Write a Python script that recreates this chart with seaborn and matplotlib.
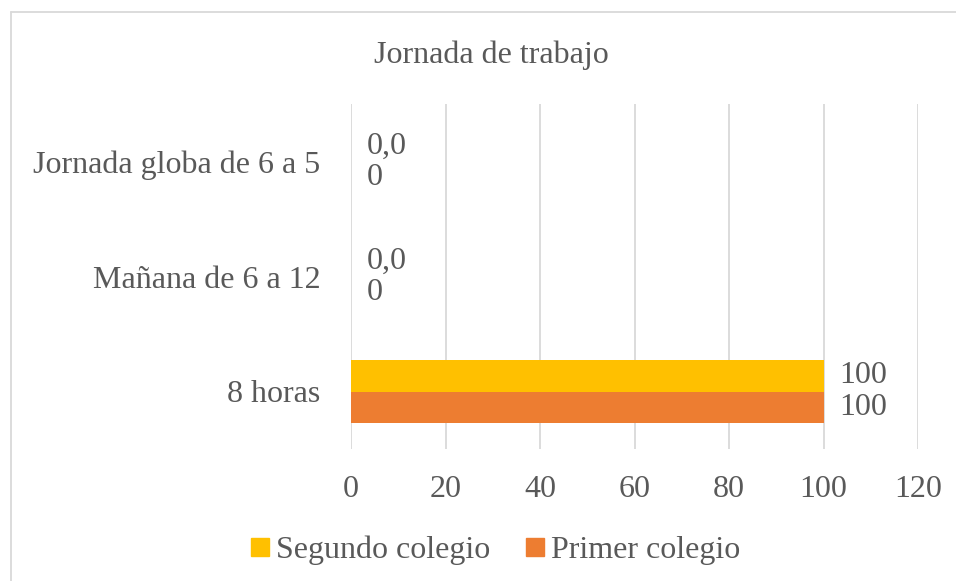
import matplotlib
matplotlib.use("Agg")
import matplotlib.pyplot as plt
import seaborn as sns
import pandas as pd
from matplotlib.lines import Line2D

categories = ["Jornada globa de 6 a 5", "Mañana de 6 a 12", "8 horas"]
series = ["Segundo colegio", "Primer colegio"]
segundo = [0, 0, 100]
primer = [0, 0, 100]
segundo_labels = ["0,0", "0,0", "100"]
primer_labels = ["0", "0", "100"]
xticks = [0, 20, 40, 60, 80, 100, 120]
colors = ["#FFC000", "#ED7D31"]

df = pd.DataFrame({
    "cat": categories * 2,
    "serie": [series[0]] * 3 + [series[1]] * 3,
    "val": segundo + primer,
})

sns.set_theme(style="white")
plt.rcParams["font.family"] = "serif"
plt.rcParams["font.serif"] = ["Liberation Serif", "Times New Roman", "DejaVu Serif"]
txt = "#595959"

fig = plt.figure(figsize=(9.56, 5.81), dpi=100)
ax = fig.add_axes([351/956, 1-449/581, (918-351)/956, (449-104)/581])
sns.barplot(data=df, x="val", y="cat", hue="serie", order=categories,
            hue_order=series, palette=colors, orient="h", width=0.54,
            saturation=1, ax=ax, legend=False, linewidth=0)

ax.bar_label(ax.containers[0], labels=segundo_labels, padding=11,
             fontsize=23, color=txt)
ax.bar_label(ax.containers[1], labels=primer_labels, padding=11,
             fontsize=23, color=txt)

ax.set_xlim(0, 120)
ax.set_xticks(xticks)
ax.set_xticklabels([str(t) for t in xticks])
ax.xaxis.grid(True, color="#D9D9D9", linewidth=1.3)
ax.set_axisbelow(True)
for s in ax.spines.values():
    s.set_visible(False)
ax.tick_params(axis="x", length=0, pad=19, labelsize=23, labelcolor=txt)
ax.tick_params(axis="y", length=0, pad=22, labelsize=23, labelcolor=txt)
ax.set_xlabel("")
ax.set_ylabel("")

fig.text(491/956, 1-55/581, "Jornada de trabajo", ha="center", va="center",
         fontsize=23, color=txt)

handles = [Line2D([], [], marker="s", linestyle="none", markersize=13,
                  markerfacecolor=c, markeredgecolor=c) for c in colors]
fig.legend(handles, series, loc="center", bbox_to_anchor=(495/956, 1-550/581),
           ncol=2, frameon=False, fontsize=23, labelcolor=txt,
           handletextpad=0.2, columnspacing=1.1, handlelength=0.6)

fig.add_artist(Line2D([11/956, 11/956], [0, 1-12/581], transform=fig.transFigure,
                      color="#D9D9D9", linewidth=1.3))
fig.add_artist(Line2D([11/956, 1], [1-12/581, 1-12/581], transform=fig.transFigure,
                      color="#D9D9D9", linewidth=1.3))

fig.savefig("out.png", dpi=100, facecolor="white")
